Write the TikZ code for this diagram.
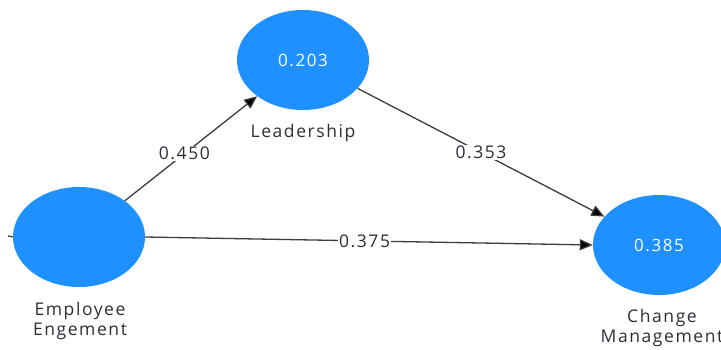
\documentclass[tikz,border=0pt]{standalone}
\usepackage{fontspec}
\setmainfont{Open Sans}[LetterSpace=9]
\usetikzlibrary{arrows.meta,shapes.geometric}
\definecolor{lvblue}{RGB}{30,144,255}
\definecolor{edgegray}{RGB}{60,60,60}
\definecolor{txtgray}{RGB}{45,45,55}
\tikzset{
  lv/.style={ellipse, fill=lvblue, minimum width=132pt, minimum height=100pt, inner sep=0pt, text=white, font=\fontsize{17}{20}\selectfont},
  lvname/.style={align=center, text=txtgray, font=\fontsize{17.5}{20}\selectfont},
  path/.style={draw=edgegray, line width=1.3pt, -{Triangle[length=13pt,width=11pt,fill=black]}},
  coef/.style={fill=white, inner sep=1pt, text=txtgray, font=\fontsize{17.5}{18}\selectfont}
}
\begin{document}
\begin{tikzpicture}[x=1pt,y=-1pt]
\useasboundingbox (0,0) rectangle (721,349);
\clip (0,0) rectangle (721,349);
\node[lv] (ee) at (79,237) {};
\node[lv] (ld) at (303,60) {0.203};
\node[lv] (cm) at (659,245) {0.385};
\node[lvname] (eel) at (80,321) {Employee\\Engement};
\node[lvname] (ldl) at (303,133) {Leadership};
\node[lvname] (cml) at (662,328) {Change\\Management};
\coordinate (stub) at (8,236);
\draw[edgegray, line width=1.3pt] (stub) -- (ee.west);
\draw[path] (ee) -- node[coef, pos=0.45] {0.450} (ld);
\draw[path] (ld) -- node[coef, pos=0.5] {0.353} (cm);
\draw[path] (ee.east) -- node[coef, pos=0.49] {0.375} (cm.west);
\end{tikzpicture}
\end{document}
